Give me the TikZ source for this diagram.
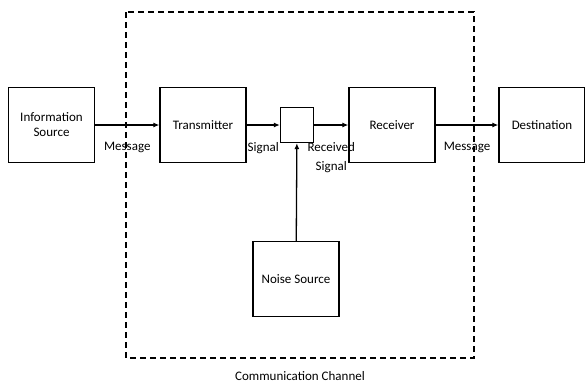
\documentclass[tikz,border=0pt]{standalone}
\usepackage{fontspec}
\setmainfont{Carlito}
\usetikzlibrary{arrows.meta,positioning}

\begin{document}
\begin{tikzpicture}[x=1pt,y=-1pt,box/.style={draw,line width=1.3pt,minimum width=86pt,minimum height=75pt,align=center,font=\fontsize{13}{15}\selectfont},arr/.style={-{Latex[length=6pt,width=5pt]},line width=1.3pt},lbl/.style={font=\fontsize{13}{19}\selectfont,align=center,inner sep=0.5pt}]
\useasboundingbox (0,0) rectangle (585,384);
\node[box] (src) at (51.5,125) {Information\\Source};
\node[box] (tx) at (203,125) {Transmitter};
\node[draw,line width=1.3pt,minimum width=33pt,minimum height=35pt] (add) at (297,125) {};
\node[box] (rx) at (392,125) {Receiver};
\node[box] (dst) at (542,125) {Destination};
\node[box] (noise) at (296,279) {Noise Source};
\draw[dashed,dash pattern=on 6pt off 4pt,line width=1.3pt] (126,12) rectangle (474,358);
\node[lbl] (chan) at (300,376) {Communication Channel};
\draw[arr] (src)--node[lbl,below=16pt]{Message}(tx); \draw[arr] (tx)--node[lbl,below=16pt]{Signal}(add);
\draw[arr] (add)--node[lbl,below=16pt]{Received\\Signal}(rx); \draw[arr] (rx)--node[lbl,below=16pt]{Message}(dst);
\draw[arr] (noise)--(add);
\end{tikzpicture}
\end{document}
